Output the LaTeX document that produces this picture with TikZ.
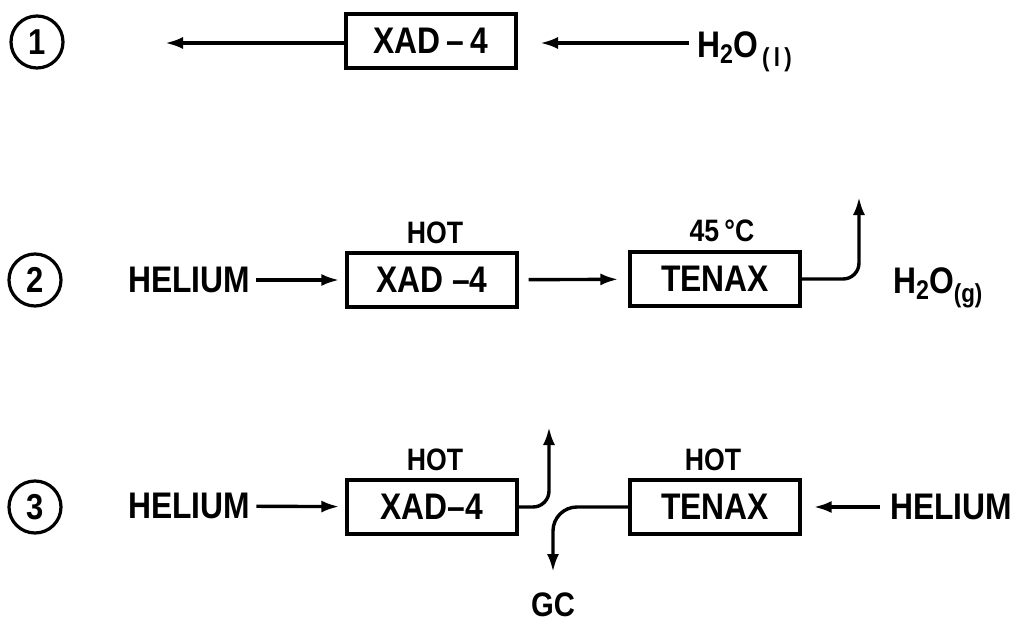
\documentclass[tikz,border=0pt]{standalone}
\usepackage{fontspec}
\setmainfont{Liberation Sans}[FakeStretch=0.86]
\usetikzlibrary{arrows.meta}
\tikzset{
  box/.style={draw, line width=3.2pt, minimum width=170pt, minimum height=54pt, inner sep=0pt, font=\fontsize{37}{37}\selectfont\bfseries},
  num/.style={draw, circle, line width=3.2pt, minimum size=52pt, inner sep=0pt, font=\fontsize{36}{36}\selectfont\bfseries},
  lbl/.style={inner sep=0pt, font=\fontsize{37}{37}\selectfont\bfseries},
  small/.style={inner sep=0pt, font=\fontsize{31}{31}\selectfont\bfseries},
  arr/.style={line width=3.4pt, -{Latex[length=18pt,width=12pt]}},
}
\newcommand{\subtwo}{\raisebox{-6pt}{\fontsize{27}{27}\selectfont 2}}
\begin{document}
\begin{tikzpicture}[x=1pt,y=-1pt]
\useasboundingbox (0,0) rectangle (1021,626);
% row 1
\node[num] (c1) at (37,42) {1};
\node[box] (b1) at (431,41) {XAD\,–\,4};
\node[lbl, anchor=base west] (h1) at (697,58) {H\subtwo O\raisebox{-9pt}{\fontsize{26}{26}\selectfont\,(\,l\,)}};
\coordinate (e1l) at (165,43);
\coordinate (e1r) at (540,43);
\draw[arr] (b1.west |- e1l) -- (e1l);
\draw[arr, shorten <=8pt] (h1.west |- e1r) -- (e1r);
% row 2
\node[num] (c2) at (35,280) {2};
\node[lbl, anchor=west] (he2) at (128,280) {HELIUM};
\node[box] (x2) at (432,280) {XAD –4};
\node[small] (hot2) at (435,233) {HOT};
\node[box] (t2) at (715,279) {TENAX};
\node[small] (deg2) at (722,231) {45\,°C};
\coordinate (up2) at (859,197);
\node[lbl, anchor=base west] (h2) at (893,293) {H\subtwo O\raisebox{-9pt}{\fontsize{26}{26}\selectfont (g)}};
\draw[arr, shorten <=6pt, shorten >=6pt] (he2) -- (x2);
\draw[arr, shorten <=10pt, shorten >=10pt] (x2) -- (t2);
\draw[arr, rounded corners=16pt] (t2.east) -| (up2);
% row 3
\node[num] (c3) at (35,507) {3};
\node[lbl, anchor=west] (he3) at (128,506) {HELIUM};
\node[box] (x3) at (432,507) {XAD–4};
\node[small] (hot3) at (435,460) {HOT};
\node[box] (t3) at (715,507) {TENAX};
\node[small] (hot3b) at (713,460) {HOT};
\node[lbl, anchor=west] (he3r) at (890,507) {HELIUM};
\node[small, font=\fontsize{34}{34}\selectfont\bfseries] (gc) at (553,605) {GC};
\coordinate (up3) at (549,427);
\coordinate (dn3) at (553,572);
\draw[arr, shorten <=6pt, shorten >=6pt] (he3) -- (x3);
\draw[arr, rounded corners=16pt] (x3.east) -| (up3);
\draw[arr, rounded corners=24pt] (t3.west) -| (dn3);
\draw[arr, shorten <=10pt, shorten >=12pt] (he3r) -- (t3);
\end{tikzpicture}
\end{document}
